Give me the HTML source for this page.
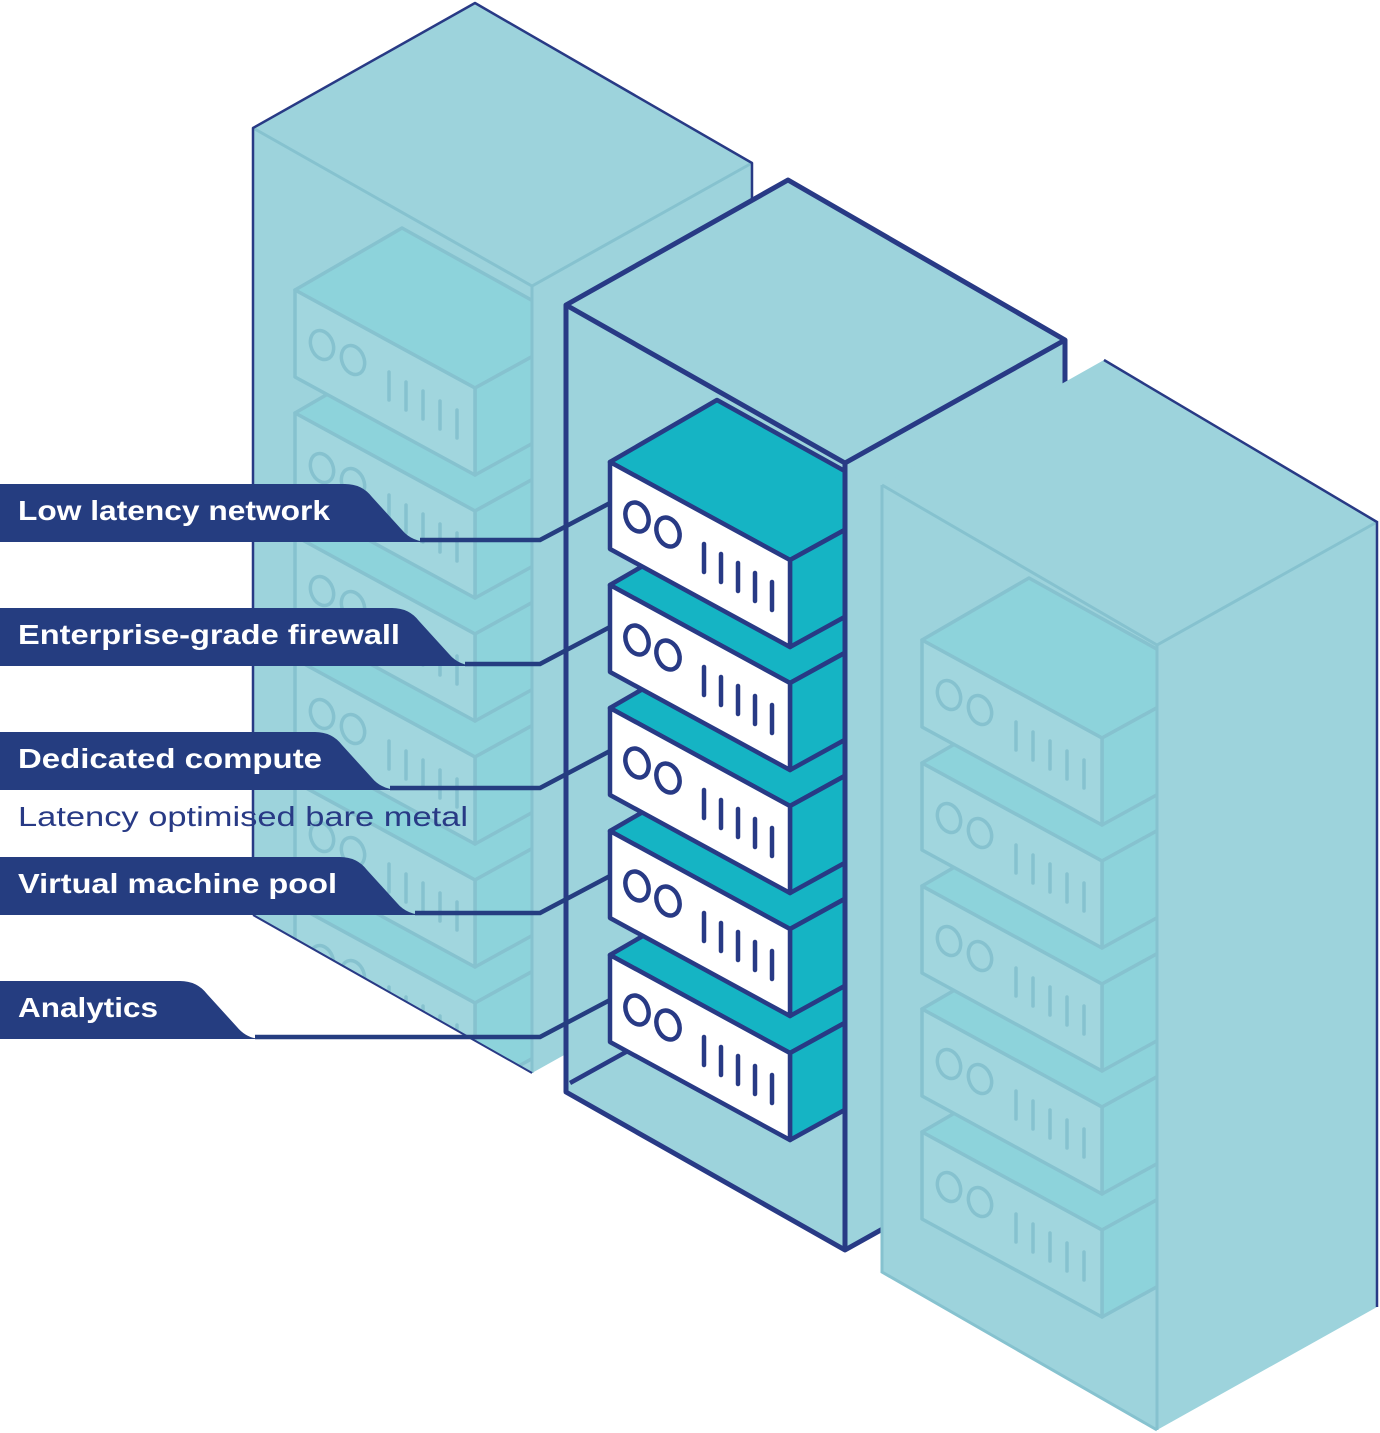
<!DOCTYPE html>
<html><head><meta charset="utf-8"><style>
html,body{margin:0;padding:0;background:#fff;}
svg{display:block;}
.lbl{font-family:"Liberation Sans",sans-serif;font-weight:bold;font-size:28px;fill:#fff;}
</style></head><body>
<svg width="1380" height="1433" viewBox="0 0 1380 1433" xmlns="http://www.w3.org/2000/svg">
<defs>
  <g id="unitC" stroke="#283a85" stroke-width="4.5" stroke-linejoin="round" stroke-linecap="round">
    <path d="M0,0 L180,98 L240,65 L240,12 L107,-62 Z" fill="#15b4c4"/>
    <path d="M180,98 L240,65 L240,152 L180,185 Z" fill="#15b4c4"/>
    <path d="M0,0 L180,98 L180,185 L0,87 Z" fill="#fff"/>
    <ellipse cx="27" cy="55" rx="11" ry="15" transform="rotate(-22 27 55)" fill="none"/>
    <ellipse cx="58" cy="70" rx="11" ry="15" transform="rotate(-22 58 70)" fill="none"/>
    <path d="M94,82 v28 M111,92 v28 M128,101 v28 M145,111 v28 M162,120 v28" fill="none"/>
  </g>
  <g id="unitF" stroke="#86c2cf" stroke-width="3.5" stroke-linejoin="round" stroke-linecap="round">
    <path d="M0,0 L180,98 L240,65 L240,12 L107,-62 Z" fill="#8dd3db"/>
    <path d="M180,98 L240,65 L240,152 L180,185 Z" fill="#8dd3db"/>
    <path d="M0,0 L180,98 L180,185 L0,87 Z" fill="#a1d6de"/>
    <ellipse cx="27" cy="55" rx="11" ry="15" transform="rotate(-22 27 55)" fill="none"/>
    <ellipse cx="58" cy="70" rx="11" ry="15" transform="rotate(-22 58 70)" fill="none"/>
    <path d="M94,82 v28 M111,92 v28 M128,101 v28 M145,111 v28 M162,120 v28" fill="none"/>
  </g>
  <clipPath id="clipL"><path d="M253,128 L532,286 L532,1073 L253,915 Z"/></clipPath>
  <clipPath id="clipC"><path d="M566,305 L845,463 L845,1250 L566,1092 Z"/></clipPath>
  <clipPath id="clipR"><path d="M882,485 L1157,645 L1157,1430 L882,1272 Z"/></clipPath>
</defs>

<!-- LEFT RACK -->
<path d="M475,3 L253,128 L253,915 L532,1073 L752,950 L752,163 Z" fill="#9dd3dc"/>
<g clip-path="url(#clipL)">
  <use href="#unitF" x="295" y="905"/>
  <use href="#unitF" x="295" y="782"/>
  <use href="#unitF" x="295" y="659"/>
  <use href="#unitF" x="295" y="536"/>
  <use href="#unitF" x="295" y="413"/>
  <use href="#unitF" x="295" y="290"/>
</g>
<g fill="none" stroke="#86c2cf" stroke-width="3">
  <path d="M253,128 L532,286 L752,163"/>
  <path d="M532,286 L532,1073"/>
</g>
<path d="M253,915 L253,128 L475,3 L752,163 L752,200" fill="none" stroke="#283a85" stroke-width="2.5" stroke-linejoin="round"/>
<path d="M253,915 L532,1073" fill="none" stroke="#283a85" stroke-width="2"/>

<!-- CENTER RACK -->
<path d="M788,180 L566,305 L566,1092 L845,1250 L1065,1127 L1065,340 Z" fill="#9dd3dc"/>
<path d="M570,1083 L680,1022" stroke="#283a85" stroke-width="4.5" fill="none"/>
<g clip-path="url(#clipC)">
  <use href="#unitC" x="610" y="955"/>
  <use href="#unitC" x="610" y="831"/>
  <use href="#unitC" x="610" y="708"/>
  <use href="#unitC" x="610" y="585"/>
  <use href="#unitC" x="610" y="462"/>
</g>
<g fill="none" stroke="#283a85" stroke-width="5" stroke-linejoin="round">
  <path d="M566,305 L788,180 L1065,340 L845,463 Z"/>
  <path d="M566,305 L566,1092 L845,1250 L1065,1127"/>
  <path d="M845,463 L845,1250"/>
  <path d="M1065,340 L1065,1127"/>
</g>

<!-- RIGHT RACK -->
<path d="M1104,360 L882,485 L882,1272 L1157,1430 L1377,1307 L1377,522 Z" fill="#9dd3dc"/>
<g clip-path="url(#clipR)">
  <use href="#unitF" x="922" y="1132"/>
  <use href="#unitF" x="922" y="1009"/>
  <use href="#unitF" x="922" y="886"/>
  <use href="#unitF" x="922" y="763"/>
  <use href="#unitF" x="922" y="640"/>
</g>
<g fill="none" stroke="#86c2cf" stroke-width="3">
  <path d="M882,485 L1157,645 L1377,522"/>
  <path d="M1157,645 L1157,1430"/>
  <path d="M882,485 L882,1272 L1157,1430"/>
</g>
<path d="M1104,360 L1377,522 L1377,1307" fill="none" stroke="#283a85" stroke-width="2.5"/>

<!-- LABELS -->
<g fill="#253d80">
  <path d="M0,484 L345,484 Q362,484 372,497 L402,530 Q412,542 430,542 L0,542 Z"/>
  <path d="M0,608 L392,608 Q409,608 419,621 L449,654 Q459,666 477,666 L0,666 Z"/>
  <path d="M0,732 L315,732 Q332,732 342,745 L372,778 Q382,790 400,790 L0,790 Z"/>
  <path d="M0,857 L340,857 Q357,857 367,870 L397,903 Q407,915 425,915 L0,915 Z"/>
  <path d="M0,981 L180,981 Q197,981 207,994 L237,1027 Q247,1039 262,1039 L0,1039 Z"/>
</g>
<g fill="none" stroke="#253d80" stroke-width="4.5" stroke-linejoin="round">
  <path d="M420,540 L540,540 L610,503"/>
  <path d="M465,664 L540,664 L610,627"/>
  <path d="M390,788 L540,788 L610,751"/>
  <path d="M415,913 L540,913 L610,876"/>
  <path d="M255,1037 L540,1037 L610,1000"/>
</g>
<text class="lbl" x="18" y="520" textLength="312" lengthAdjust="spacingAndGlyphs">Low latency network</text>
<text class="lbl" x="18" y="644" textLength="382" lengthAdjust="spacingAndGlyphs">Enterprise-grade firewall</text>
<text class="lbl" x="18" y="768" textLength="304" lengthAdjust="spacingAndGlyphs">Dedicated compute</text>
<text class="lbl" x="18" y="893" textLength="319" lengthAdjust="spacingAndGlyphs">Virtual machine pool</text>
<text class="lbl" x="18" y="1017" textLength="140" lengthAdjust="spacingAndGlyphs">Analytics</text>
<text x="18" y="826" font-family="Liberation Sans, sans-serif" font-size="28" fill="#283a85" textLength="450" lengthAdjust="spacingAndGlyphs">Latency optimised bare metal</text>
</svg>
</body></html>
